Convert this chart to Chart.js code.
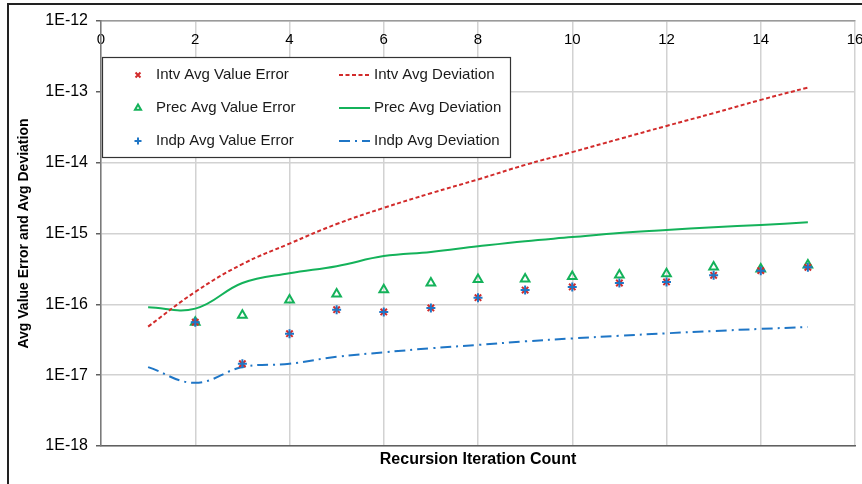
<!DOCTYPE html>
<html>
<head>
<meta charset="utf-8">
<script src="https://cdn.jsdelivr.net/npm/chart.js@4.4.1/dist/chart.umd.min.js"></script>
<style>
  html, body { margin: 0; padding: 0; background: #fff; }
  #wrap { position: relative; width: 862px; height: 484px; overflow: hidden; }
  #frame { position: absolute; left: 7px; top: 3px; width: 900px; height: 600px;
           border-left: 2px solid #222; border-top: 2px solid #222; }
  #chart { position: absolute; left: 0; top: 0; }
</style>
</head>
<body>
<div id="wrap">
  <div id="frame"></div>
  <canvas id="chart" width="862" height="484"></canvas>
</div>
<script>
// recursion iterations
const iterations = [1, 2, 3, 4, 5, 6, 7, 8, 9, 10, 11, 12, 13, 14, 15];

// average value errors (no value at iteration 1)
const intvError = [null, 5.6e-17, 1.45e-17, 3.85e-17, 8.4e-17, 7.8e-17, 8.9e-17, 1.24e-16, 1.59e-16, 1.76e-16, 2.0e-16, 2.07e-16, 2.57e-16, 2.99e-16, 3.33e-16];
const precError = [null, 5.6e-17, 7.0e-17, 1.15e-16, 1.4e-16, 1.61e-16, 2.0e-16, 2.24e-16, 2.28e-16, 2.48e-16, 2.6e-16, 2.7e-16, 3.36e-16, 3.16e-16, 3.6e-16];
const indpError = [null, 5.6e-17, 1.45e-17, 3.85e-17, 8.4e-17, 7.8e-17, 8.9e-17, 1.24e-16, 1.59e-16, 1.76e-16, 2.0e-16, 2.07e-16, 2.57e-16, 2.99e-16, 3.33e-16];

// average deviations
const intvDeviation = [4.85e-17, 1.5e-16, 3.7e-16, 7.2e-16, 1.36e-15, 2.3e-15, 3.7e-15, 5.8e-15, 9.3e-15, 1.41e-14, 2.16e-14, 3.3e-14, 5.0e-14, 7.7e-14, 1.15e-13];
const precDeviation = [9.1e-17, 8.7e-17, 2.0e-16, 2.75e-16, 3.46e-16, 4.8e-16, 5.5e-16, 6.6e-16, 7.8e-16, 8.9e-16, 1.02e-15, 1.12e-15, 1.23e-15, 1.32e-15, 1.44e-15];
const indpDeviation = [1.3e-17, 7.8e-18, 1.3e-17, 1.45e-17, 1.82e-17, 2.1e-17, 2.4e-17, 2.67e-17, 3.0e-17, 3.3e-17, 3.6e-17, 3.9e-17, 4.2e-17, 4.5e-17, 4.8e-17];

// axis ticks
const xTicks = [0, 2, 4, 6, 8, 10, 12, 14, 16];
const yTicks = [1e-18, 1e-17, 1e-16, 1e-15, 1e-14, 1e-13, 1e-12];
const yTickLabels = ['1E-18', '1E-17', '1E-16', '1E-15', '1E-14', '1E-13', '1E-12'];

const RED = '#D22B2B';
const GREEN = '#14B25A';
const BLUE = '#1F76C6';
const FONT = '"Liberation Sans", Arial, sans-serif';

Chart.defaults.font.family = FONT;
Chart.defaults.color = '#000';

const toPoints = values => iterations.map((x, i) => ({ x: x, y: values[i] }));

function errorSet(label, values, style, color, order) {
  return {
    label: label,
    data: toPoints(values),
    showLine: false,
    pointStyle: style,
    pointRadius: style === 'triangle' ? 5 : 4.5,
    pointBorderWidth: 2,
    borderColor: color,
    backgroundColor: 'rgba(255,255,255,0)',
    order: order
  };
}

function deviationSet(label, values, color, dash, order) {
  return {
    label: label,
    data: toPoints(values),
    borderColor: color,
    backgroundColor: color,
    borderWidth: 2,
    borderDash: dash,
    pointRadius: 0,
    tension: 0.4,
    fill: false,
    order: order
  };
}

// boxed two-column legend inside the plot
const legendBox = {
  id: 'legendBox',
  afterDatasetsDraw(chart) {
    const ctx = chart.ctx;
    const box = { left: 102, top: 57, right: 510, bottom: 157 };
    const rows = [75, 108, 141];
    const sets = chart.data.datasets;
    ctx.save();
    ctx.fillStyle = '#fff';
    ctx.fillRect(box.left, box.top, box.right - box.left, box.bottom - box.top);
    ctx.strokeStyle = '#333';
    ctx.lineWidth = 1.2;
    ctx.strokeRect(box.left + 0.5, box.top + 0.5, box.right - box.left, box.bottom - box.top);
    ctx.font = '15px ' + FONT;
    ctx.textBaseline = 'middle';
    rows.forEach((y, i) => {
      const pt = sets[i];
      const ln = sets[i + 3];
      ctx.strokeStyle = pt.borderColor;
      ctx.fillStyle = '#fff';
      ctx.lineWidth = 2;
      ctx.setLineDash([]);
      Chart.helpers.drawPoint(ctx, { pointStyle: pt.pointStyle, radius: 3.5, borderWidth: 2, rotation: 0 }, 138, y);
      ctx.fillStyle = '#1a1a1a';
      ctx.fillText(pt.label, 156, y);

      ctx.strokeStyle = ln.borderColor;
      ctx.lineWidth = 2;
      ctx.setLineDash(ln.borderDash || []);
      ctx.beginPath();
      ctx.moveTo(339, y);
      ctx.lineTo(370, y);
      ctx.stroke();
      ctx.setLineDash([]);
      ctx.fillStyle = '#1a1a1a';
      ctx.fillText(ln.label, 374, y);
    });
    ctx.restore();
  }
};

new Chart(document.getElementById('chart'), {
  type: 'line',
  data: {
    datasets: [
      errorSet('Intv Avg Value Error', intvError, 'crossRot', RED, 1),
      errorSet('Prec Avg Value Error', precError, 'triangle', GREEN, 2),
      errorSet('Indp Avg Value Error', indpError, 'cross', BLUE, 0),
      deviationSet('Intv Avg Deviation', intvDeviation, RED, [4, 2.5], 3),
      deviationSet('Prec Avg Deviation', precDeviation, GREEN, [], 4),
      deviationSet('Indp Avg Deviation', indpDeviation, BLUE, [11, 5, 2, 5], 5)
    ]
  },
  options: {
    responsive: false,
    animation: false,
    layout: { padding: { left: 0, top: 0, right: 7, bottom: 0 } },
    plugins: {
      legend: { display: false },
      tooltip: { enabled: false }
    },
    scales: {
      x: {
        type: 'linear',
        position: 'top',
        min: 0,
        max: 16,
        afterBuildTicks: scale => { scale.ticks = xTicks.map(v => ({ value: v })); },
        afterFit: scale => {
          scale.height = 21;
          scale.paddingLeft = 0;
          scale.paddingRight = 0;
        },
        ticks: {
          autoSkip: false,
          maxRotation: 0,
          mirror: true,
          padding: 10,
          font: { size: 15 },
          color: '#000'
        },
        grid: { color: '#D2D2D2', lineWidth: 1.5, drawTicks: false },
        border: { color: '#9A9A9A', width: 1.5 }
      },
      x2: {
        type: 'linear',
        position: 'bottom',
        min: 0,
        max: 16,
        afterFit: scale => { scale.height = 38; },
        ticks: { display: false },
        grid: { display: false },
        border: { color: '#606060', width: 1.5 },
        title: {
          display: true,
          text: 'Recursion Iteration Count',
          font: { size: 16, weight: 'bold' },
          padding: { top: 0, bottom: 15 },
          color: '#000'
        }
      },
      y: {
        type: 'logarithmic',
        min: 1e-18,
        max: 1e-12,
        afterBuildTicks: scale => { scale.ticks = yTicks.map(v => ({ value: v })); },
        afterFit: scale => { scale.width = 101; },
        ticks: {
          padding: 8,
          font: { size: 16 },
          color: '#000',
          callback: value => {
            const i = yTicks.findIndex(t => Math.abs(Math.log10(t) - Math.log10(value)) < 1e-6);
            return i >= 0 ? yTickLabels[i] : '';
          }
        },
        grid: { color: '#D2D2D2', lineWidth: 1.5, tickLength: 5, tickColor: '#606060' },
        border: { color: '#7A7A7A', width: 1.5 },
        title: {
          display: true,
          text: 'Avg Value Error and Avg Deviation',
          font: { size: 14, weight: 'bold' },
          padding: { top: 16, bottom: 0 },
          color: '#000'
        }
      }
    }
  },
  plugins: [legendBox]
});
</script>
</body>
</html>
